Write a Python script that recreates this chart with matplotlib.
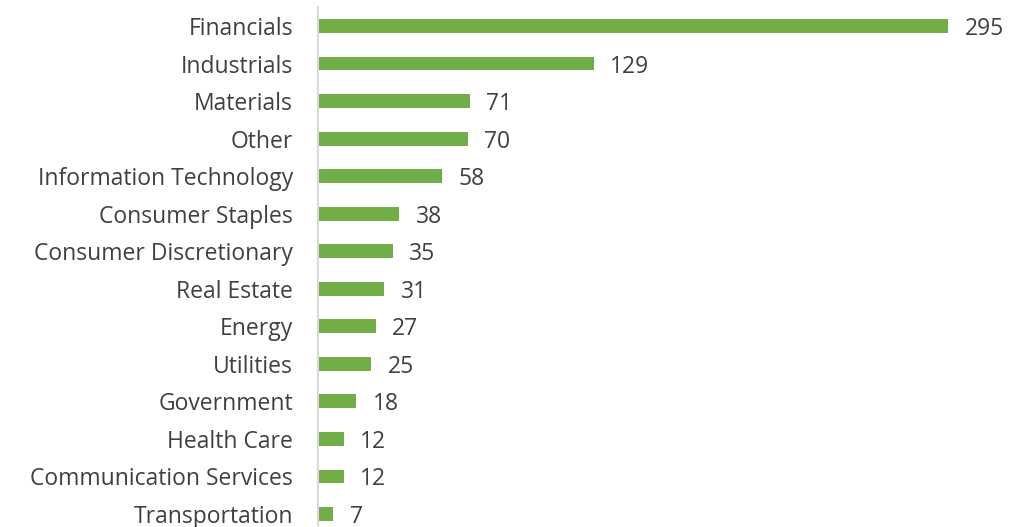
import matplotlib.pyplot as plt

sectors = ["Financials", "Industrials", "Materials", "Other", "Information Technology",
           "Consumer Staples", "Consumer Discretionary", "Real Estate", "Energy",
           "Utilities", "Government", "Health Care", "Communication Services",
           "Transportation"]
counts = [295, 129, 71, 70, 58, 38, 35, 31, 27, 25, 18, 12, 12, 7]

W, H = 1010, 527
fig = plt.figure(figsize=(W / 100, H / 100), dpi=100)
# axes placed in pixel terms: y-axis at x=318, rows 37.5 px apart
top, bottom = 7.25, 532.75
ax = fig.add_axes([318 / W, (H - bottom) / H, (W - 318) / W, (bottom - top) / H])

pos = list(range(len(sectors)))
ax.barh(pos, counts, height=0.37, color="#70ad47")
ax.set_ylim(len(sectors) - 0.5, -0.5)
ax.set_xlim(0, (W - 318) / 2.136)

font = dict(fontsize=16.5, color="#404040", family="Open Sans")
ax.set_yticks(pos)
ax.set_yticklabels(sectors, **font)
ax.tick_params(axis="y", length=0, pad=18)
ax.set_xticks([])

for s in ["top", "right", "bottom"]:
    ax.spines[s].set_visible(False)
ax.spines["left"].set_color("#d9d9d9")
ax.spines["left"].set_linewidth(1.5)

for y, v in zip(pos, counts):
    ax.annotate(str(v), (v, y), xytext=(12, 0), textcoords="offset points",
                va="center_baseline", ha="left", **font)

fig.savefig("out.png", dpi=100)
